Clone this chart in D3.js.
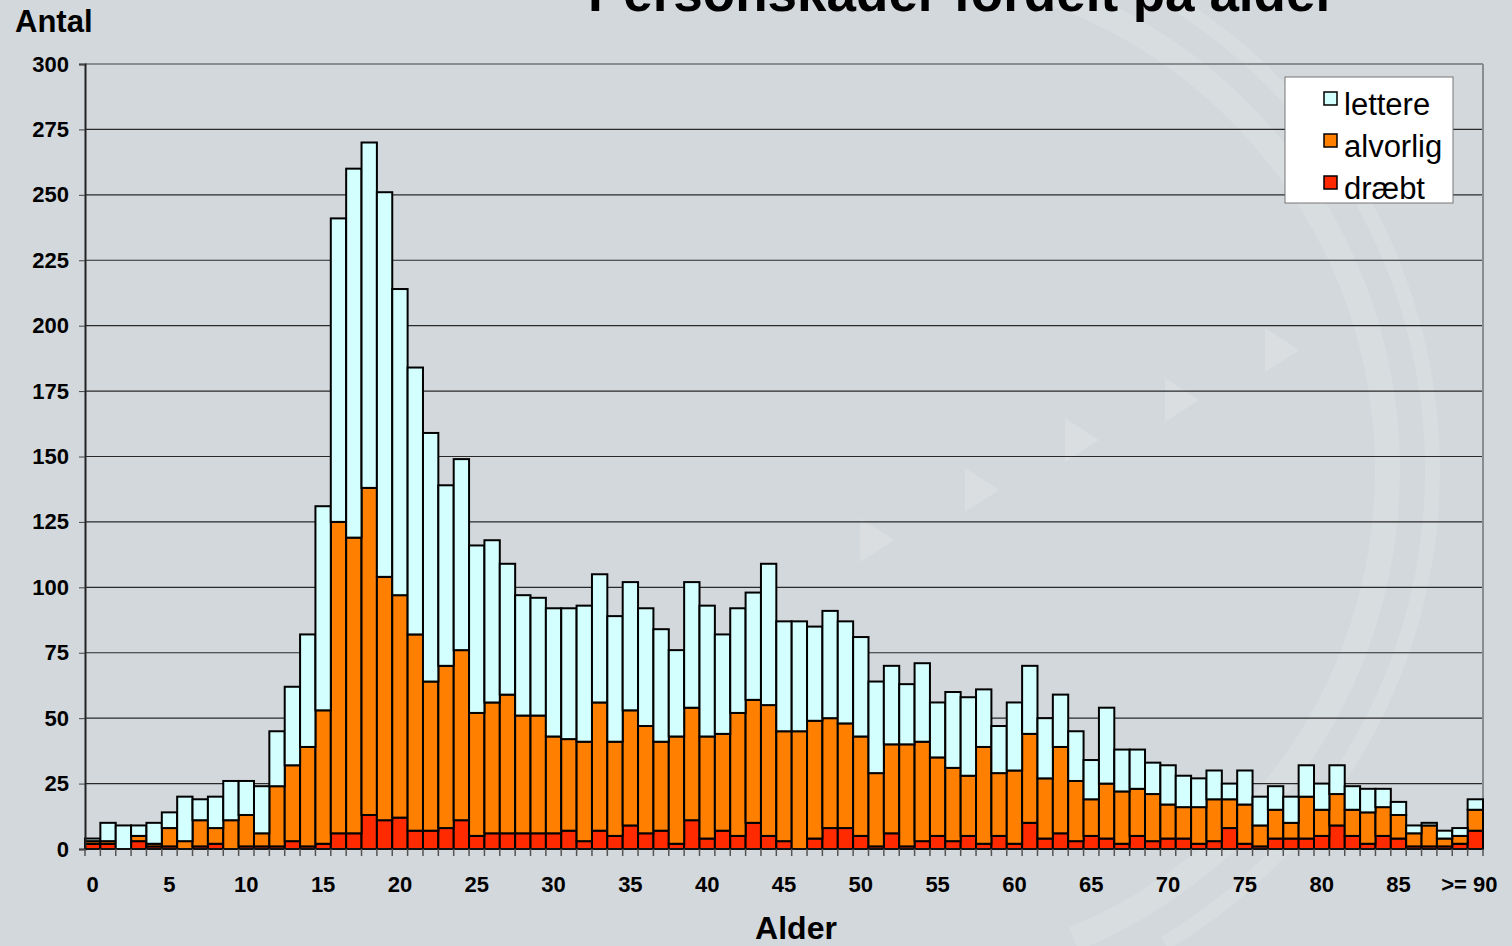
<!DOCTYPE html>
<html>
<head>
<meta charset="utf-8">
<script src="https://cdn.jsdelivr.net/npm/d3@7"></script>
<style>
  body { margin: 0; background: #d3d8dc; }
  svg { display: block; font-family: "Liberation Sans", Arial, sans-serif; }
</style>
</head>
<body>
<svg id="main"></svg>
<script>
const width = 1512
const height = 946

const ages = d3.range(0, 90).map(String).concat(['>= 90'])
const tickLabels = ['0','5','10','15','20','25','30','35','40','45','50','55','60','65','70','75','80','85','>= 90']
const yTicks = d3.range(0, 301, 25)
const keys = ['draebt', 'alvorlig', 'lettere']
const legendLabels = ['lettere', 'alvorlig', 'dræbt']

const draebt = [2,2,0,3,1,1,0,1,2,0, 1,1,1,3,1,2,6,6,13,11, 12,7,7,8,11,5,6,6,6,6,
  6,7,3,7,5,9,6,7,2,11, 4,7,5,10,5,3,0,4,8,8, 5,1,6,1,3,5,3,5,2,5,
  2,10,4,6,3,5,4,2,5,3, 4,4,2,3,8,2,1,4,4,4, 5,9,5,2,5,4,1,1,1,2, 7]
const alvorlig = [1,1,0,2,1,7,3,10,6,11, 12,5,23,29,38,51,119,113,125,93, 85,75,57,62,65,47,50,53,45,45,
  37,35,38,49,36,44,41,34,41,43, 39,37,47,47,50,42,45,45,42,40, 38,28,34,39,38,30,28,23,37,24,
  28,34,23,33,23,14,21,20,18,18, 13,12,14,16,11,15,8,11,6,16, 10,12,10,12,11,9,5,8,3,3, 8]
const lettere = [1,7,9,4,8,6,17,8,12,15, 13,18,21,30,43,78,116,141,132,147, 117,102,95,69,73,64,62,50,46,45,
  49,50,52,49,48,49,45,43,33,48, 50,38,40,41,54,42,42,36,41,39, 38,35,30,23,30,21,29,30,22,18,
  26,26,23,20,19,15,29,16,15,12, 15,12,11,11,6,13,11,9,10,12, 10,11,9,9,7,5,3,1,3,3, 4]

const colors = { draebt: '#ff2a00', alvorlig: '#ff8000', lettere: '#d4ffff' }

const svg = d3.select('#main').attr('width', width).attr('height', height)

// faint background decoration (right-hand arcs and arrow heads)
const arc = d3.arc()
const deco = svg.append('g').attr('transform', 'translate(880,470)').attr('fill', '#ffffff').attr('fill-opacity', 0.13)
deco.append('path').attr('d', arc({ innerRadius: 495, outerRadius: 520, startAngle: 0.35, endAngle: 2.75 }))
deco.append('path').attr('d', arc({ innerRadius: 545, outerRadius: 560, startAngle: 0.45, endAngle: 2.6 }))
const tri = svg.append('g').attr('fill', '#ffffff').attr('fill-opacity', 0.16)
;[[860, 540], [965, 490], [1065, 440], [1165, 400], [1265, 350]].forEach(([x, y]) => {
  tri.append('path').attr('d', `M ${x} ${y - 22} L ${x + 34} ${y} L ${x} ${y + 22} Z`)
})

const x = d3.scaleBand().domain(ages).range([85, 1483]).paddingInner(0).paddingOuter(0)
const y = d3.scaleLinear().domain([0, 300]).range([849, 64])

// grid
svg.append('g').selectAll('line').data(yTicks.filter(d => d > 0)).join('line')
  .attr('x1', 85).attr('x2', 1483)
  .attr('y1', d => y(d)).attr('y2', d => y(d))
  .attr('stroke', d => d === 300 ? '#8a8d90' : '#2a2a2a').attr('stroke-width', d => d === 300 ? 2 : 1.2)
svg.append('line').attr('x1', 1483).attr('x2', 1483).attr('y1', 64).attr('y2', 849)
  .attr('stroke', '#8a8d90').attr('stroke-width', 2)

const table = ages.map((a, i) => ({ age: a, draebt: draebt[i], alvorlig: alvorlig[i], lettere: lettere[i] }))
const stacked = d3.stack().keys(keys)(table)

svg.append('g').selectAll('g').data(stacked).join('g')
  .attr('fill', d => colors[d.key])
  .selectAll('rect').data(d => d).join('rect')
  .attr('x', d => x(d.data.age))
  .attr('width', x.bandwidth())
  .attr('y', d => y(d[1]))
  .attr('height', d => y(d[0]) - y(d[1]))
  .attr('stroke', '#000').attr('stroke-width', 2)

// axes
const yAxis = svg.append('g').attr('transform', 'translate(85,0)')
  .call(d3.axisLeft(y).tickValues(yTicks).tickSize(6).tickPadding(10))
yAxis.select('.domain').attr('stroke', '#222').attr('stroke-width', 2)
yAxis.selectAll('.tick line').attr('stroke', '#444')
yAxis.selectAll('text').attr('font-size', 22).attr('font-weight', 'bold').attr('fill', '#000')
  .attr('font-family', '"Liberation Sans", Arial, sans-serif')

const xAxis = svg.append('g').attr('transform', 'translate(0,849)')
xAxis.append('line').attr('x1', 85).attr('x2', 1483).attr('stroke', '#111').attr('stroke-width', 2)
xAxis.selectAll('line.tk').data(d3.range(0, ages.length + 1)).join('line').classed('tk', true)
  .attr('x1', i => 85 + i * x.step()).attr('x2', i => 85 + i * x.step())
  .attr('y1', 0).attr('y2', 7).attr('stroke', '#555').attr('stroke-width', 1.5)
xAxis.selectAll('text').data(tickLabels).join('text')
  .attr('x', d => x(d) + x.bandwidth() / 2 + (d === '>= 90' ? -6 : 0))
  .attr('y', 43)
  .attr('text-anchor', 'middle')
  .attr('font-size', 22).attr('font-weight', 'bold')
  .text(d => d)

// titles
svg.append('text').attr('x', 962).attr('y', 11).attr('text-anchor', 'middle')
  .attr('font-size', 53).attr('font-weight', 'bold').text('Personskader fordelt på alder')
svg.append('text').attr('x', 15).attr('y', 32).attr('font-size', 31).attr('font-weight', 'bold').text('Antal')
svg.append('text').attr('x', 796).attr('y', 939).attr('text-anchor', 'middle')
  .attr('font-size', 32).attr('font-weight', 'bold').text('Alder')

// legend
const legend = svg.append('g').attr('transform', 'translate(1285,77)')
legend.append('rect').attr('width', 168).attr('height', 126).attr('fill', '#fff')
  .attr('stroke', '#777').attr('stroke-width', 1)
const legendKeys = ['lettere', 'alvorlig', 'draebt']
legendKeys.forEach((k, i) => {
  const row = legend.append('g').attr('transform', `translate(0, ${i * 42})`)
  row.append('rect').attr('x', 39).attr('y', 15).attr('width', 13).attr('height', 13)
    .attr('fill', colors[k]).attr('stroke', '#000').attr('stroke-width', 1.5)
  row.append('text').attr('x', 59).attr('y', 38).attr('font-size', 31).text(legendLabels[i])
})
</script>
</body>
</html>
